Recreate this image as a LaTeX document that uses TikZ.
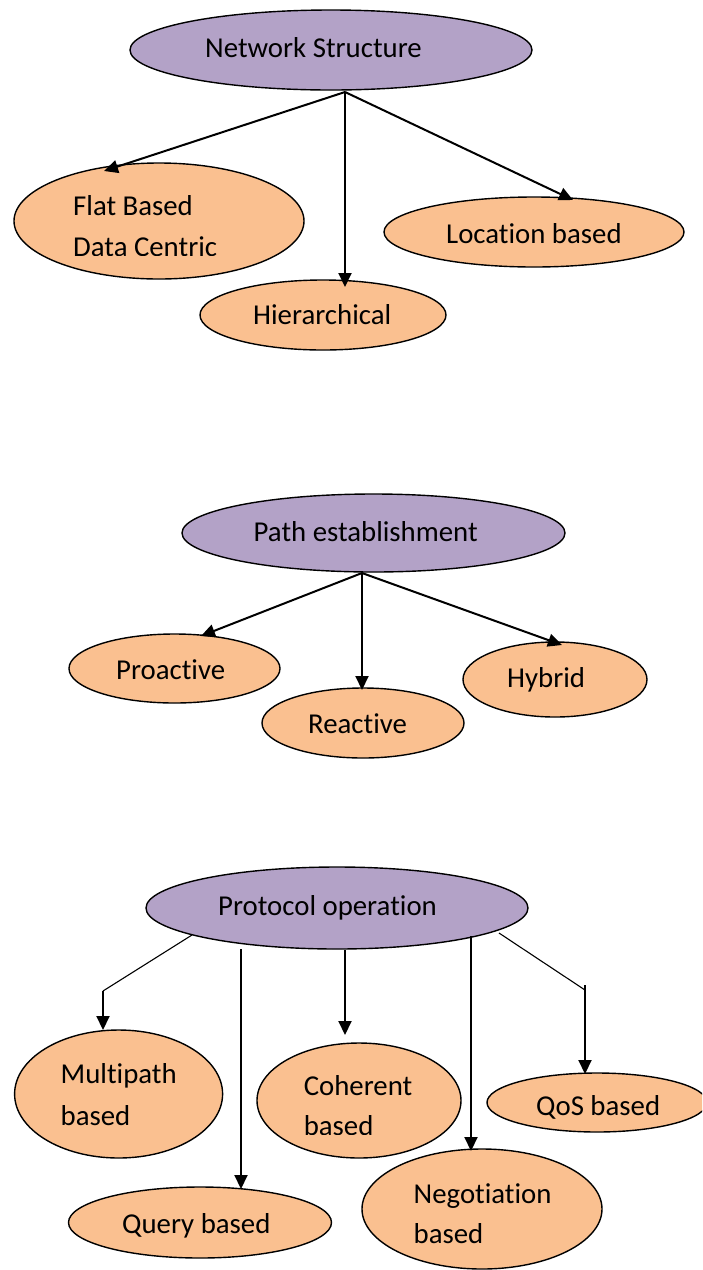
\documentclass[tikz,border=0pt]{standalone}
\usepackage{fontspec}
\setmainfont{Carlito}[Ligatures=NoCommon]
\usetikzlibrary{shapes.geometric,arrows.meta}
\definecolor{lav}{HTML}{B3A2C7}
\definecolor{peach}{HTML}{FAC090}
\begin{document}
\begin{tikzpicture}[x=1pt,y=-1pt,
 parentel/.style={ellipse,draw=black,line width=1.4pt,fill=lav,inner sep=0},
 childel/.style={ellipse,draw=black,line width=1.4pt,fill=peach,inner sep=0},
 lbl/.style={anchor=base west,inner sep=0,font=\fontsize{28.8pt}{34pt}\selectfont},
 conn/.style={line width=2pt,-{Triangle[length=14pt,width=13pt]}},
 diagline/.style={line width=1.1pt}]
\clip (0,0) rectangle (702,1270);
\fill[white] (0,0) rectangle (702,1270);

% ---------- Group 1 ----------
\node[parentel,minimum width=402pt,minimum height=80pt] (ns) at (331,50) {};
\node[lbl] (nst) at (205,57) {Network Structure};
\node[childel,minimum width=290pt,minimum height=116pt] (fb) at (159,221) {};
\node[lbl] (fbt1) at (73,215) {Flat Based};
\begin{scope}
\clip (60,225) rectangle (260,255.6);
\node[lbl] (fbt2) at (73,256.5) {Data Centric};
\end{scope}
\node[childel,minimum width=300pt,minimum height=70pt] (lb) at (534,232) {};
\node[lbl] (lbt) at (446,243) {Location based};
\node[childel,minimum width=246pt,minimum height=70pt] (hi) at (323,315) {};
\node[lbl] (hit) at (253,324) {Hierarchical};

\coordinate (nsb) at (345,92);
\coordinate (fbtip) at (104,171);
\coordinate (hitip) at (345,287);
\coordinate (lbtip) at (573,200);
\draw[conn] (nsb) -- (fbtip);
\draw[conn] (nsb) -- (hitip);
\draw[conn] (nsb) -- (lbtip);

% ---------- Group 2 ----------
\node[parentel,minimum width=383pt,minimum height=78pt] (pe) at (373.5,533) {};
\node[lbl] (pet) at (253.5,541) {Path establishment};
\node[childel,minimum width=211pt,minimum height=69pt] (pa) at (174.5,668.5) {};
\node[lbl] (pat) at (116,679) {Proactive};
\node[childel,minimum width=202pt,minimum height=70pt] (ra) at (363,723) {};
\node[lbl] (rat) at (308,733) {Reactive};
\node[childel,minimum width=184pt,minimum height=75pt] (hy) at (555,679.5) {};
\node[lbl] (hyt) at (507,687) {Hybrid};

\coordinate (peb) at (362,573);
\coordinate (patip) at (201,636);
\coordinate (ratip) at (362,690);
\coordinate (hytip) at (562,645);
\draw[conn] (peb) -- (patip);
\draw[conn] (peb) -- (ratip);
\draw[conn] (peb) -- (hytip);

% ---------- Group 3 ----------
\node[parentel,minimum width=382pt,minimum height=82pt] (po) at (337,908) {};
\node[lbl] (pot) at (218,915) {Protocol operation};
\node[childel,minimum width=208pt,minimum height=128pt] (mp) at (118.6,1094) {};
\node[lbl] (mpt1) at (60.5,1083) {Multipath};
\node[lbl] (mpt2) at (60.5,1125) {based};
\node[childel,minimum width=204pt,minimum height=115pt] (co) at (359,1100.5) {};
\node[lbl] (cot1) at (303.6,1095) {Coherent};
\begin{scope}
\clip (290,1100) rectangle (420,1134.3);
\node[lbl] (cot2) at (303.6,1135.3) {based};
\end{scope}
\node[childel,minimum width=220pt,minimum height=59pt] (qs) at (597,1102.5) {};
\node[lbl] (qst) at (536,1115) {QoS based};
\node[childel,minimum width=263pt,minimum height=71pt] (qb) at (200,1222.5) {};
\node[lbl] (qbt) at (122,1233) {Query based};
\node[childel,minimum width=240pt,minimum height=120pt] (ne) at (482,1209) {};
\node[lbl] (net1) at (413.5,1203) {Negotiation};
\node[lbl] (net2) at (413.5,1243) {based};

\coordinate (pomp) at (192,935);
\coordinate (mpk) at (103,991);
\coordinate (mptip) at (103,1030);
\draw[diagline] (pomp) -- (mpk);
\draw[conn] (mpk) -- (mptip);

\coordinate (poqb) at (241,949);
\coordinate (qbtip) at (241,1189);
\draw[conn] (poqb) -- (qbtip);

\coordinate (poco) at (345,950);
\coordinate (cotip) at (345,1035);
\draw[conn] (poco) -- (cotip);

\coordinate (pone) at (471,936);
\coordinate (netip) at (471,1151);
\draw[conn] (pone) -- (netip);

\coordinate (poqs) at (499,933);
\coordinate (qsk) at (585,990);
\coordinate (qsv) at (585,985);
\coordinate (qstip) at (585,1074);
\draw[diagline] (poqs) -- (qsk);
\draw[conn] (qsv) -- (qstip);
\end{tikzpicture}
\end{document}
